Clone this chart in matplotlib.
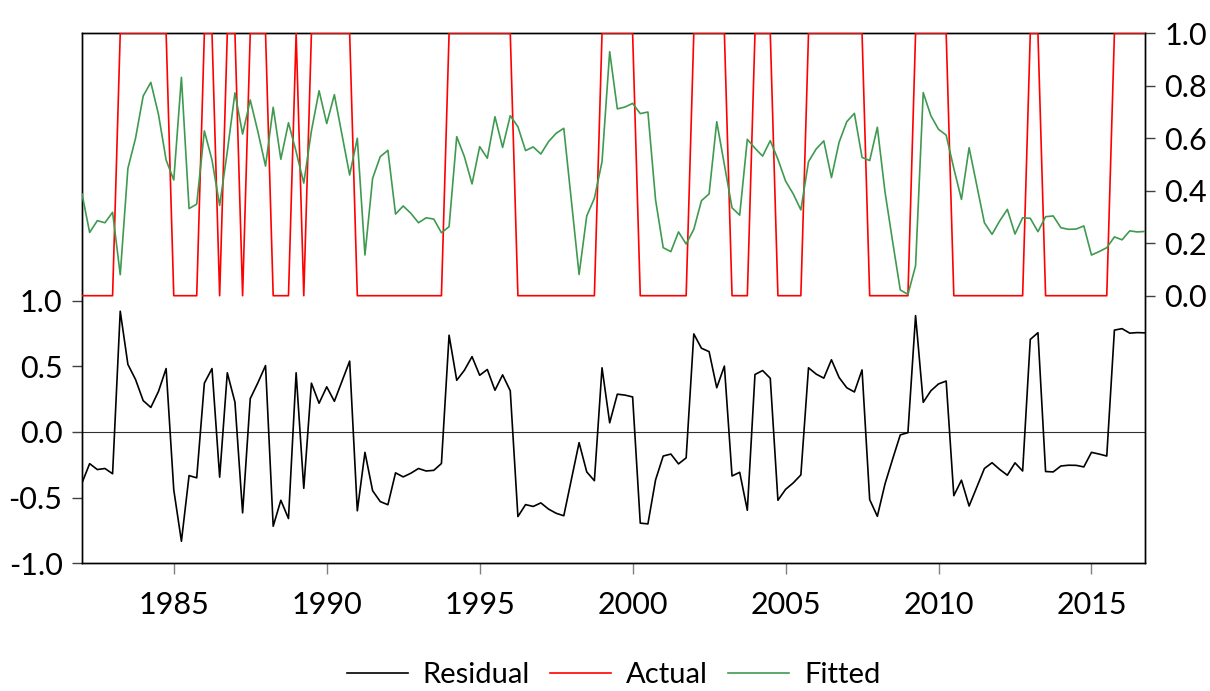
import numpy as np
import pandas as pd
import matplotlib
matplotlib.use('Agg')
import matplotlib.pyplot as plt

plt.rcParams['font.family'] = ['Lato', 'DejaVu Sans']

# quarterly sample 1982Q1 - 2016Q4
quarters = pd.period_range('1982Q1', '2016Q4', freq='Q')

actual = [0, 0, 0, 0, 0, 1, 1, 1, 1, 1,
          1, 1, 0, 0, 0, 0, 1, 1, 0, 1,
          1, 0, 1, 1, 1, 0, 0, 0, 1, 0,
          1, 1, 1, 1, 1, 1, 0, 0, 0, 0,
          0, 0, 0, 0, 0, 0, 0, 0, 1, 1,
          1, 1, 1, 1, 1, 1, 1, 0, 0, 0,
          0, 0, 0, 0, 0, 0, 0, 0, 1, 1,
          1, 1, 1, 0, 0, 0, 0, 0, 0, 0,
          1, 1, 1, 1, 1, 0, 0, 0, 1, 1,
          1, 0, 0, 0, 0, 1, 1, 1, 1, 1,
          1, 1, 1, 0, 0, 0, 0, 0, 0, 1,
          1, 1, 1, 1, 0, 0, 0, 0, 0, 0,
          0, 0, 0, 0, 1, 1, 0, 0, 0, 0,
          0, 0, 0, 0, 0, 1, 1, 1, 1, 1]

fitted = [0.388, 0.241, 0.286, 0.278, 0.318, 0.080, 0.485, 0.600, 0.761, 0.813,
          0.691, 0.517, 0.441, 0.832, 0.332, 0.349, 0.628, 0.517, 0.344, 0.549,
          0.773, 0.616, 0.746, 0.625, 0.494, 0.718, 0.520, 0.659, 0.549, 0.429,
          0.628, 0.781, 0.656, 0.766, 0.612, 0.460, 0.600, 0.155, 0.447, 0.530,
          0.554, 0.311, 0.342, 0.314, 0.278, 0.297, 0.292, 0.240, 0.263, 0.606,
          0.530, 0.426, 0.568, 0.524, 0.682, 0.565, 0.686, 0.644, 0.553, 0.567,
          0.540, 0.587, 0.619, 0.638, 0.360, 0.081, 0.304, 0.371, 0.511, 0.930,
          0.712, 0.719, 0.733, 0.694, 0.700, 0.365, 0.183, 0.168, 0.243, 0.197,
          0.253, 0.362, 0.388, 0.663, 0.498, 0.335, 0.307, 0.596, 0.562, 0.532,
          0.591, 0.520, 0.437, 0.388, 0.327, 0.511, 0.559, 0.590, 0.450, 0.585,
          0.663, 0.695, 0.527, 0.515, 0.642, 0.396, 0.206, 0.022, 0.005, 0.114,
          0.774, 0.686, 0.634, 0.612, 0.485, 0.367, 0.564, 0.422, 0.278, 0.234,
          0.285, 0.329, 0.235, 0.297, 0.295, 0.244, 0.301, 0.304, 0.259, 0.253,
          0.254, 0.266, 0.155, 0.168, 0.183, 0.224, 0.213, 0.247, 0.243, 0.245]

year_ticks = [1985, 1990, 1995, 2000, 2005, 2010, 2015]
left_ticks = [-1.0, -0.5, 0.0, 0.5, 1.0]
right_ticks = [0.0, 0.2, 0.4, 0.6, 0.8, 1.0]

t = np.array([p.year + (p.quarter - 1) / 4 for p in quarters])
actual = np.array(actual, dtype=float)
fitted = np.array(fitted)
resid = actual - fitted

fs = 22
fig = plt.figure(figsize=(12.1, 6.91), dpi=100)
W, H = 1210, 691
ax = fig.add_axes([82 / W, (H - 563.3) / H, (1145 - 82) / W, (563.3 - 32.7) / H])
ax2 = ax.twinx()

ax.axhline(0, color='#303030', lw=0.8, zorder=1)
l1, = ax.plot(t, resid, color='black', lw=1.2, label='Residual', zorder=3)
l2, = ax2.plot(t, actual, color='#ff0000', lw=1.2, label='Actual', zorder=3)
l3, = ax2.plot(t, fitted, color='#3f9a50', lw=1.2, label='Fitted', zorder=3)

ax.set_xlim(t[0], t[-1])
ax.set_ylim(-1.0, 3.041)
ax2.set_ylim(-1.0198, 1.0023)

ax.set_xticks(year_ticks)
ax.set_xticklabels([str(y) for y in year_ticks], fontsize=fs)
ax.set_yticks(left_ticks)
ax.set_yticklabels(['%.1f' % v for v in left_ticks], fontsize=fs)
ax2.set_yticks(right_ticks)
ax2.set_yticklabels(['%.1f' % v for v in right_ticks], fontsize=fs)

ax.tick_params(axis='x', direction='out', length=8, width=1, color='#808080', pad=12)
ax.tick_params(axis='y', direction='out', length=7, width=1, color='#404040', pad=7)
ax2.tick_params(axis='y', direction='out', length=7, width=1, color='#404040', pad=7)

for a in (ax, ax2):
    for s in a.spines.values():
        s.set_color('black')
        s.set_linewidth(1.0)

fig.legend(handles=[l1, l2, l3], loc='center', ncol=3, frameon=False, fontsize=21,
           bbox_to_anchor=(613.5 / W, 1 - 675 / H), handlelength=2.1,
           handletextpad=0.5, columnspacing=0.7, borderpad=0.2)

fig.savefig('out.png', dpi=100)
